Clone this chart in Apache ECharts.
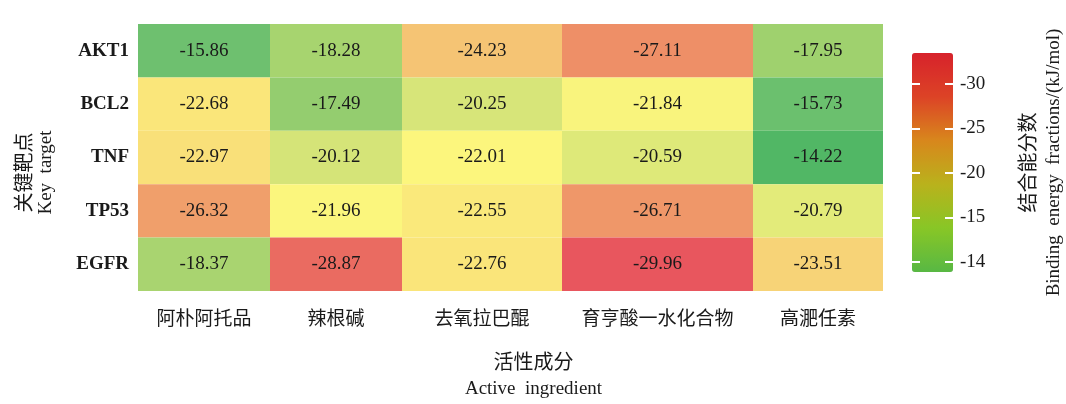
<!DOCTYPE html>
<html>
<head>
<meta charset="utf-8">
<script src="https://cdn.jsdelivr.net/npm/echarts@6/dist/echarts.min.js"></script>
<style>
  html, body { margin: 0; padding: 0; background: #fff; }
  #chart { width: 1066px; height: 404px; }
</style>
</head>
<body>
<div id="chart"></div>
<script>
// Active ingredients (columns) and key targets (rows)
const ingredients = ['阿朴阿托品', '辣根碱', '去氧拉巴醌', '育亨酸一水化合物', '高淝任素'];
const targets = ['AKT1', 'BCL2', 'TNF', 'TP53', 'EGFR'];

// Binding energy per target, one value per ingredient (kJ/mol)
const akt1 = [-15.86, -18.28, -24.23, -27.11, -17.95];
const bcl2 = [-22.68, -17.49, -20.25, -21.84, -15.73];
const tnf  = [-22.97, -20.12, -22.01, -20.59, -14.22];
const tp53 = [-26.32, -21.96, -22.55, -26.71, -20.79];
const egfr = [-18.37, -28.87, -22.76, -29.96, -23.51];

// Colour-bar tick labels, bottom to top
const barTicks = ['-14', '-15', '-20', '-25', '-30'];

// Layout: relative column widths (the long ingredient name gets a wider column)
const colWidths = [132, 132, 160, 191, 130];

const rows = [akt1, bcl2, tnf, tp53, egfr];
const colStarts = [];
let acc = 0;
colWidths.forEach(w => { colStarts.push(acc); acc += w; });
const totalWidth = acc;
const colCenters = colStarts.map((s, i) => s + colWidths[i] / 2);

// [centre on x, row index, value, column width]
const cells = [];
rows.forEach((vals, r) => {
  vals.forEach((v, c) => cells.push([colCenters[c], r, v, colWidths[c]]));
});

const SERIF = '"Liberation Serif", "Times New Roman", serif';
const CJK = '"Noto Sans CJK SC", sans-serif';
const INK = '#1a1a1a';

// white tick marks drawn across the colour bar edges
const barTick = { show: true, inside: true, length: 8, lineStyle: { color: '#ffffff', width: 2 } };

const chart = echarts.init(document.getElementById('chart'), null, { renderer: 'canvas' });

chart.setOption({
  backgroundColor: '#ffffff',
  animation: false,
  grid: [
    { left: 138, top: 24, width: totalWidth, height: 267, outerBoundsMode: 'none', containLabel: false },
    { left: 912, top: 84, width: 41, height: 178, outerBoundsMode: 'none', containLabel: false },
    { left: 912, top: 53, width: 41, height: 219, outerBoundsMode: 'none', containLabel: false }
  ],
  xAxis: [
    {
      gridIndex: 0, type: 'value', min: 0, max: totalWidth,
      axisLine: { show: false }, axisTick: { show: false }, splitLine: { show: false },
      axisLabel: {
        customValues: colCenters,
        formatter: v => ingredients[colCenters.indexOf(v)] || '',
        fontFamily: CJK, fontSize: 19, color: INK, margin: 17
      },
      name: '{zh|活性成分}\n{en|Active  ingredient}',
      nameLocation: 'middle', nameGap: 56,
      nameTextStyle: {
        lineHeight: 28,
        padding: [0, 0, 0, 46],
        rich: {
          zh: { fontFamily: CJK, fontSize: 20, color: INK, lineHeight: 28 },
          en: { fontFamily: SERIF, fontSize: 19, color: INK, lineHeight: 28 }
        }
      }
    },
    { gridIndex: 1, type: 'value', min: 0, max: 1, show: false },
    { gridIndex: 2, type: 'value', min: 0, max: 1, show: false }
  ],
  yAxis: [
    {
      gridIndex: 0, type: 'category', data: targets, inverse: true,
      axisLine: { show: false, onZero: false }, axisTick: { show: false }, splitLine: { show: false },
      axisLabel: { fontFamily: SERIF, fontWeight: 'bold', fontSize: 19, color: INK, margin: 9 },
      name: '{zh|关键靶点}\n{en|Key  target}',
      nameLocation: 'middle', nameRotate: 90, nameGap: 80,
      nameTextStyle: {
        lineHeight: 23,
        padding: [0, 30, 0, 0],
        rich: {
          zh: { fontFamily: CJK, fontSize: 20, color: INK, lineHeight: 23 },
          en: { fontFamily: SERIF, fontSize: 19, color: INK, lineHeight: 23 }
        }
      }
    },
    {
      // colour-bar ticks and labels on the right edge
      gridIndex: 1, type: 'category', data: barTicks, boundaryGap: false,
      position: 'right', z: 10,
      axisLine: { show: false, onZero: false },
      axisTick: barTick,
      axisLabel: { fontFamily: SERIF, fontSize: 19, color: INK, margin: 7 },
      splitLine: { show: false }
    },
    {
      // matching white ticks on the left edge of the colour bar
      gridIndex: 1, type: 'category', data: barTicks, boundaryGap: false,
      position: 'left', z: 10,
      axisLine: { show: false, onZero: false },
      axisTick: barTick,
      axisLabel: { show: false },
      splitLine: { show: false }
    },
    {
      // colour-bar title
      gridIndex: 2, type: 'value', position: 'right',
      axisLine: { show: false, onZero: false }, axisTick: { show: false }, axisLabel: { show: false }, splitLine: { show: false },
      name: '{zh|结合能分数}\n{en|Binding  energy  fractions/(kJ/mol)}',
      nameLocation: 'middle', nameRotate: 90, nameGap: 61,
      nameTextStyle: {
        lineHeight: 27,
        rich: {
          zh: { fontFamily: CJK, fontSize: 20, color: INK, lineHeight: 27 },
          en: { fontFamily: SERIF, fontSize: 19, color: INK, lineHeight: 27 }
        }
      }
    }
  ],
  visualMap: [
    {
      // cell colours
      type: 'continuous', show: false, seriesIndex: 0, dimension: 2,
      min: -30, max: -14,
      inRange: {
        color: ['#e8555e', '#eb7c63', '#f1a66c', '#f6c875', '#fcf67d', '#d2e378', '#a0d16e', '#70c170', '#4db664']
      }
    },
    {
      // colour bar
      type: 'continuous', show: true, seriesIndex: 1,
      min: -33, max: -13.3, inverse: true, calculable: false,
      left: 912, top: 53, itemWidth: 41, itemHeight: 219, padding: 0,
      z: 1,
      text: null, showLabel: false,
      inRange: {
        color: ['#d7222b', '#dc4326', '#d8871c', '#b9b21c', '#88c626', '#58b844']
      }
    }
  ],
  series: [
    {
      type: 'custom',
      xAxisIndex: 0, yAxisIndex: 0,
      data: cells,
      encode: { x: 0, y: 1 },
      renderItem: function (params, api) {
        const cx = api.value(0), row = api.value(1), w = api.value(3);
        const p0 = api.coord([cx - w / 2, row]);
        const p1 = api.coord([cx + w / 2, row]);
        const h = api.size([0, 1])[1];
        return {
          type: 'group',
          children: [
            {
              type: 'rect',
              shape: { x: p0[0], y: p0[1] - h / 2, width: p1[0] - p0[0], height: h },
              style: { fill: api.visual('color') }
            },
            {
              type: 'text',
              style: {
                text: api.value(2).toFixed(2),
                x: (p0[0] + p1[0]) / 2, y: p0[1],
                align: 'center', verticalAlign: 'middle',
                fontFamily: SERIF, fontSize: 19, fill: INK
              }
            }
          ]
        };
      }
    },
    {
      type: 'scatter', xAxisIndex: 0, yAxisIndex: 0, data: [], silent: true
    }
  ]
});
</script>
</body>
</html>
